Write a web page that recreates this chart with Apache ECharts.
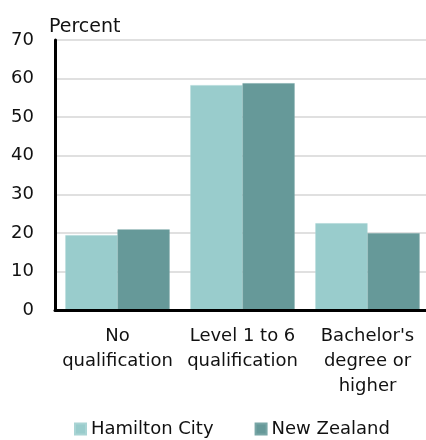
<!DOCTYPE html>
<html>
<head>
<meta charset="utf-8">
<script src="https://cdn.jsdelivr.net/npm/echarts@6/dist/echarts.min.js"></script>
<style>
  html, body { margin: 0; padding: 0; background: #fff; }
  #chart { width: 426px; height: 440px; }
</style>
</head>
<body>
<div id="chart"></div>
<script>
// data
var categories = ['No\nqualification', 'Level 1 to 6\nqualification', "Bachelor's\ndegree or\nhigher"];
var hamiltonCity = [19.4, 58.3, 22.5];
var newZealand = [20.9, 58.8, 19.9];
var seriesNames = ['Hamilton City', 'New Zealand'];

var FONT = 'DejaVu Sans';
var TEXT_COLOR = '#111';
var AXIS_COLOR = '#000000';

var chart = echarts.init(document.getElementById('chart'));

chart.setOption({
  animation: false,
  title: {
    text: 'Percent',
    left: 49,
    top: 18,
    padding: 0,
    textStyle: { fontFamily: FONT, fontSize: 19, fontWeight: 'normal', color: TEXT_COLOR },
  },
  legend: {
    data: seriesNames,
    left: 74,
    bottom: 2,
    padding: 0,
    icon: 'rect',
    itemWidth: 11,
    itemHeight: 11,
    itemGap: 41,
    textStyle: { fontFamily: FONT, fontSize: 18, color: TEXT_COLOR, padding: [0, 0, 0, 0] },
  },
  grid: {
    left: 55,
    right: -4,
    top: 40,
    bottom: 130,
    containLabel: false,
    outerBoundsMode: 'none',
  },
  xAxis: {
    type: 'category',
    data: categories,
    z: 10,
    axisTick: { show: false },
    axisLine: { show: true, onZero: false, lineStyle: { color: AXIS_COLOR, width: 3 } },
    axisLabel: {
      interval: 0,
      margin: 14,
      fontFamily: FONT,
      fontSize: 18,
      lineHeight: 25,
      color: TEXT_COLOR,
    },
  },
  yAxis: [
    {
      // gridlines + tick labels, kept under the bars
      type: 'value',
      position: 'left',
      min: 0,
      max: 70,
      interval: 10,
      axisLine: { show: false },
      axisTick: { show: false },
      axisLabel: { margin: 21, fontFamily: FONT, fontSize: 18, color: TEXT_COLOR },
      splitLine: { lineStyle: { color: '#d6d6d6', width: 1.5 } },
    },
    {
      // the dark axis line, drawn above everything
      type: 'value',
      position: 'left',
      min: 0,
      max: 70,
      interval: 10,
      z: 10,
      axisLine: { show: true, lineStyle: { color: AXIS_COLOR, width: 3 } },
      axisTick: { show: false },
      axisLabel: { show: false },
      splitLine: { show: false },
    },
  ],
  series: [
    {
      name: seriesNames[0],
      type: 'bar',
      data: hamiltonCity,
      barGap: '0%',
      barCategoryGap: '16.6%',
      itemStyle: { color: '#99cccc', borderColor: '#a9d4d4', borderWidth: 0.5 },
    },
    {
      name: seriesNames[1],
      type: 'bar',
      data: newZealand,
      itemStyle: { color: '#669999', borderColor: '#78a6a6', borderWidth: 0.5 },
    },
  ],
});
</script>
</body>
</html>
